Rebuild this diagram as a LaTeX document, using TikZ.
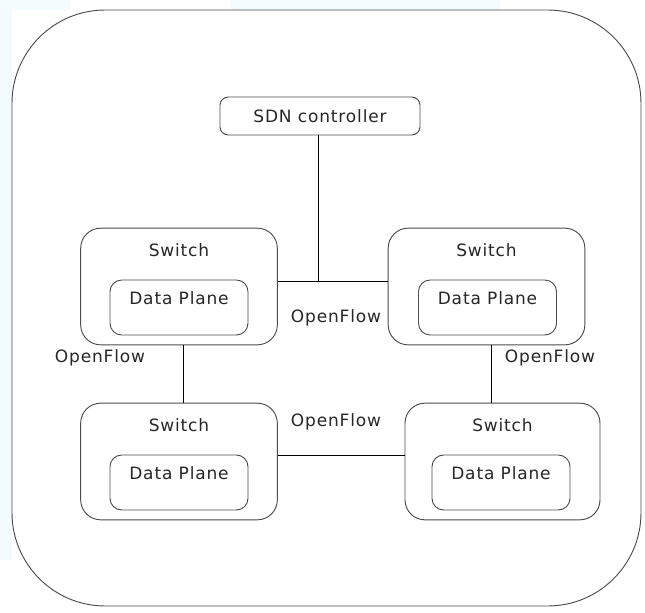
\documentclass[tikz,border=0pt]{standalone}
\usepackage{fontspec}
\setmainfont{DejaVu Sans}[LetterSpace=5]
\usetikzlibrary{calc}
\usetikzlibrary{positioning}

\begin{document}
\begin{tikzpicture}[
        x=0.03cm, y=-0.03cm,
        every node/.style={font=\fontsize{14.5}{16}\selectfont, text=black!85},
        ctrlbox/.style={rectangle, rounded corners=0.25cm, draw=black!70, line width=0.8pt,
                        minimum width=6cm, minimum height=1.14cm, inner sep=0pt},
        switchbox/.style={rectangle, rounded corners=0.6cm, draw=black!70, line width=0.8pt,
                          minimum width=5.9cm, minimum height=3.5cm, inner sep=0pt},
        planebox/.style={rectangle, rounded corners=0.35cm, draw=black!70, line width=0.8pt,
                         minimum width=4.14cm, minimum height=1.65cm, inner sep=0pt},
        link/.style={draw=black, line width=0.7pt},
        proto/.style={inner sep=0pt},
    ]

    \useasboundingbox (0,0) rectangle (645,612);

    % faint background at the left edge
    \fill[cyan!5] (0,0) rectangle (12,560);
    \fill[cyan!4] (0,0) rectangle (70,10);
    \fill[cyan!4] (230,0) rectangle (500,10);

    % outer frame
    \draw[draw=black!70, line width=0.8pt, rounded corners=2.8cm] (12,10) rectangle (641,606);

    % controller
    \node[ctrlbox] (ctrl) at (320,116) {SDN controller};

    % switches
    \node[switchbox, label={[anchor=north, inner sep=0pt, yshift=-13pt]north:Switch}] (swTL) at (179,286.5) {};
    \node[switchbox, label={[anchor=north, inner sep=0pt, yshift=-13pt]north:Switch}] (swTR) at (486.5,286.5) {};
    \node[switchbox, label={[anchor=north, inner sep=0pt, yshift=-13pt]north:Switch}] (swBL) at (179,461.5) {};
    \node[switchbox, minimum width=5.85cm,
          label={[anchor=north, inner sep=0pt, yshift=-13pt]north:Switch}] (swBR) at (502.5,461.5) {};

    % data planes
    \node[planebox, label={[anchor=north, inner sep=0pt, yshift=-10.5pt]north:Data Plane}] (dpTL) at (179,307.5) {};
    \node[planebox, label={[anchor=north, inner sep=0pt, yshift=-10.5pt]north:Data Plane}] (dpTR) at (487.5,307.5) {};
    \node[planebox, label={[anchor=north, inner sep=0pt, yshift=-10.5pt]north:Data Plane}] (dpBL) at (179,482.5) {};
    \node[planebox, label={[anchor=north, inner sep=0pt, yshift=-10.5pt]north:Data Plane}] (dpBR) at (501,482.5) {};

    % junctions
    \coordinate (topjn) at (318,281);
    \coordinate (botjn) at (340,455);

    % links
    \draw[link] (swTL.east |- topjn) -- (swTR.west |- topjn);
    \draw[link] (ctrl.south -| topjn) -- (topjn);
    \draw[link] ([xshift=0.12cm]swTL.south) -- ([xshift=0.12cm]swBL.north);
    \draw[link] ([xshift=0.135cm]swTR.south) -- ([xshift=0.135cm]swTR.south |- swBR.north);
    \draw[link] (swBL.east |- botjn) -- (swBR.west |- botjn);

    % protocol labels
    \node[proto] (ofTop)   at (336,318) {OpenFlow};
    \node[proto] (ofLeft)  at (100,358) {OpenFlow};
    \node[proto] (ofRight) at (550,358) {OpenFlow};
    \node[proto] (ofBot)   at (336,422) {OpenFlow};
\end{tikzpicture}
\end{document}
